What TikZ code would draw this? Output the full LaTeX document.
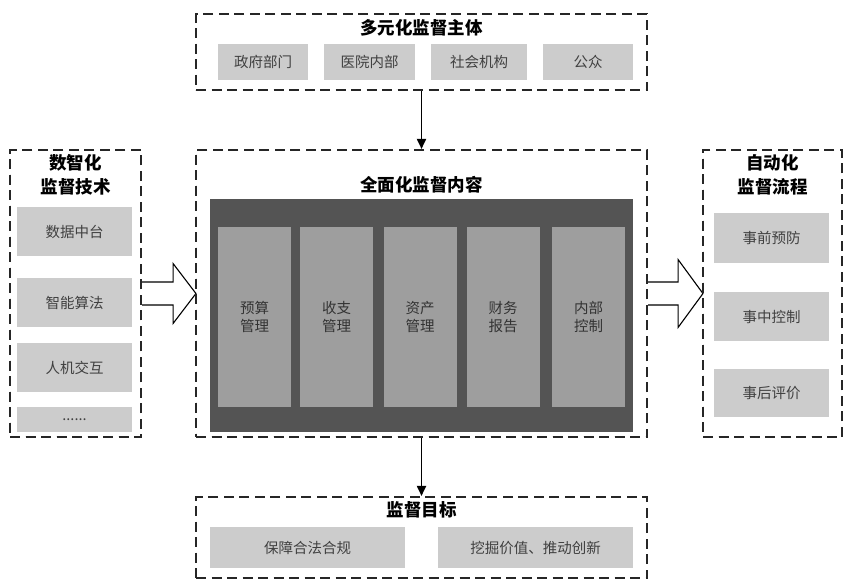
\documentclass[tikz,border=0pt]{standalone}
\usepackage{fontspec}
\setmainfont{Noto Sans CJK SC}
\usetikzlibrary{calc,arrows.meta}
\begin{document}
\begin{tikzpicture}[x=1pt,y=-1pt,
  frame/.style={draw=black!85,line width=2.1pt,dash pattern=on 10pt off 5.5pt,minimum width=#1,inner sep=0pt},
  sub/.style={fill=black!20,draw=none,text=black!75,font=\fontsize{14.5}{17}\selectfont,inner sep=0pt},
  col/.style={fill=black!38,draw=none,text=black!80,font=\fontsize{14.5}{18}\selectfont,align=center,inner sep=0pt,minimum width=73pt,minimum height=180pt},
  ttl/.style={font=\bfseries\fontsize{17.5}{24}\selectfont,align=center,text=black,inner sep=0pt},
  blk/.style={draw=black,line width=1.1pt,fill=white,line join=miter},
  dn/.style={draw=black,line width=1.8pt,-{Triangle[length=10pt,width=9pt]}}]
\useasboundingbox (0,0) rectangle (845,587);

% frames
\node[frame=451pt,minimum height=76pt] (T) at (421.5,52) {};
\node[frame=451pt,minimum height=287pt] (C) at (421.5,293.5) {};
\node[frame=451pt,minimum height=81pt] (B) at (421.5,537.5) {};
\node[frame=131pt,minimum height=287pt] (L) at (75.5,293.5) {};
\node[frame=139pt,minimum height=287pt] (R) at (772.5,293.5) {};

% top
\node[ttl] (Tt) at (421.5,28) {多元化监督主体};
\node[sub,minimum width=90pt,minimum height=36pt] (T1) at (263,62) {政府部门};
\node[sub,minimum width=91pt,minimum height=36pt] (T2) at (369.5,62) {医院内部};
\node[sub,minimum width=96pt,minimum height=36pt] (T3) at (479,62) {社会机构};
\node[sub,minimum width=90pt,minimum height=36pt] (T4) at (588,62) {公众};

% center
\node[ttl] (Ct) at (421.5,185) {全面化监督内容};
\node[fill=black!67,minimum width=423pt,minimum height=233pt,inner sep=0pt] (D) at (421.5,315.5) {};
\node[col] (C1) at (254.5,317) {预算\\管理};
\node[col] (C2) at (336.5,317) {收支\\管理};
\node[col] (C3) at (420,317) {资产\\管理};
\node[col] (C4) at (503,317) {财务\\报告};
\node[col] (C5) at (588.5,317) {内部\\控制};

% left
\node[ttl] (Lt) at (75.5,174.5) {数智化\\监督技术};
\node[sub,minimum width=115pt,minimum height=49pt] (L1) at (74.5,231.5) {数据中台};
\node[sub,minimum width=115pt,minimum height=49pt] (L2) at (74.5,302.5) {智能算法};
\node[sub,minimum width=115pt,minimum height=49pt] (L3) at (74.5,367.5) {人机交互};
\node[sub,minimum width=115pt,minimum height=25pt] (L4) at (74.5,419.5) {......};

% right
\node[ttl] (Rt) at (772.5,174.5) {自动化\\监督流程};
\node[sub,minimum width=115pt,minimum height=50pt] (R1) at (771.5,238) {事前预防};
\node[sub,minimum width=115pt,minimum height=49pt] (R2) at (771.5,316.5) {事中控制};
\node[sub,minimum width=115pt,minimum height=48pt] (R3) at (771.5,393) {事后评价};

% bottom
\node[ttl] (Bt) at (421.5,510) {监督目标};
\node[sub,minimum width=195pt,minimum height=41pt] (B1) at (307.5,547.5) {保障合法合规};
\node[sub,minimum width=195pt,minimum height=41pt] (B2) at (535.5,547.5) {挖掘价值、推动创新};

% arrows
\draw[dn] (T.south) -- (C.north);
\draw[dn] (C.south) -- (B.north);
\draw[blk] ($(L.east)+(0,-11.5)$) -- ($(L.east)+(31,-11.5)$) -- ($(L.east)+(31,-30)$) -- ($(C.west)+(1,0)$) -- ($(L.east)+(31,30)$) -- ($(L.east)+(31,11.5)$) -- ($(L.east)+(0,11.5)$);
\draw[blk] ($(C.east)+(0,-11.5)$) -- ($(C.east)+(30,-11.5)$) -- ($(C.east)+(30,-34)$) -- ($(R.west)+(1,0)$) -- ($(C.east)+(30,34)$) -- ($(C.east)+(30,11.5)$) -- ($(C.east)+(0,11.5)$);

% redraw frames on top
\node[frame=131pt,minimum height=287pt] at (75.5,293.5) {};
\node[frame=139pt,minimum height=287pt] at (772.5,293.5) {};
\node[frame=451pt,minimum height=287pt] at (421.5,293.5) {};
\end{tikzpicture}
\end{document}
